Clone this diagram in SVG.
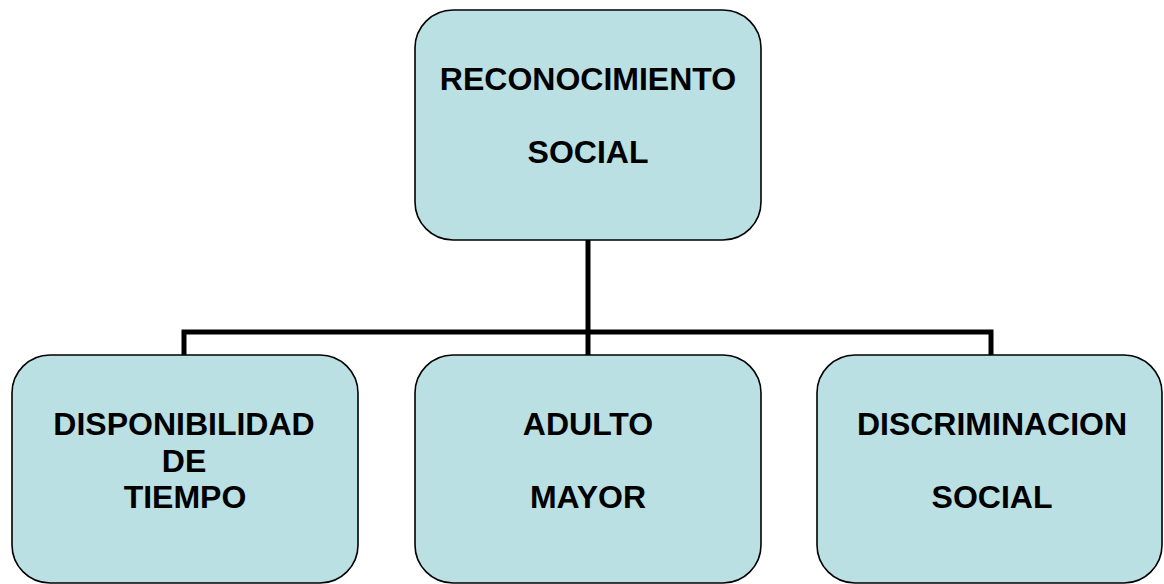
<svg xmlns="http://www.w3.org/2000/svg" width="1164" height="584" viewBox="0 0 1164 584">
<style>
.box{fill:#BBE0E3;stroke:#000;stroke-width:1.6}
.t{font-family:"Liberation Sans",Arial,sans-serif;font-weight:bold;font-size:32px;fill:#000;text-anchor:middle}
.c{fill:none;stroke:#000;stroke-width:5;stroke-linecap:butt;stroke-linejoin:miter}
</style>
<rect width="1164" height="584" fill="#fff"/>
<g id="connectors">
<line class="c" x1="588" y1="240" x2="588" y2="355"/>
<polyline class="c" points="184,355 184,332 991,332 991,355"/>
</g>
<g id="n-reconocimiento">
<rect class="box" x="415" y="10" width="346" height="230" rx="38" ry="38"/>
<text class="t" x="588" y="90">RECONOCIMIENTO</text>
<text class="t" x="588" y="163">SOCIAL</text>
</g>
<g id="n-disponibilidad">
<rect class="box" x="12" y="355" width="346" height="228" rx="38" ry="38"/>
<text class="t" x="184" y="435">DISPONIBILIDAD</text>
<text class="t" x="184" y="472">DE</text>
<text class="t" x="185" y="508">TIEMPO</text>
</g>
<g id="n-adulto">
<rect class="box" x="415" y="355" width="346" height="228" rx="38" ry="38"/>
<text class="t" x="588" y="435">ADULTO</text>
<text class="t" x="588" y="508">MAYOR</text>
</g>
<g id="n-discriminacion">
<rect class="box" x="817" y="355" width="345" height="228" rx="38" ry="38"/>
<text class="t" x="992" y="435">DISCRIMINACION</text>
<text class="t" x="992" y="508">SOCIAL</text>
</g>
</svg>
